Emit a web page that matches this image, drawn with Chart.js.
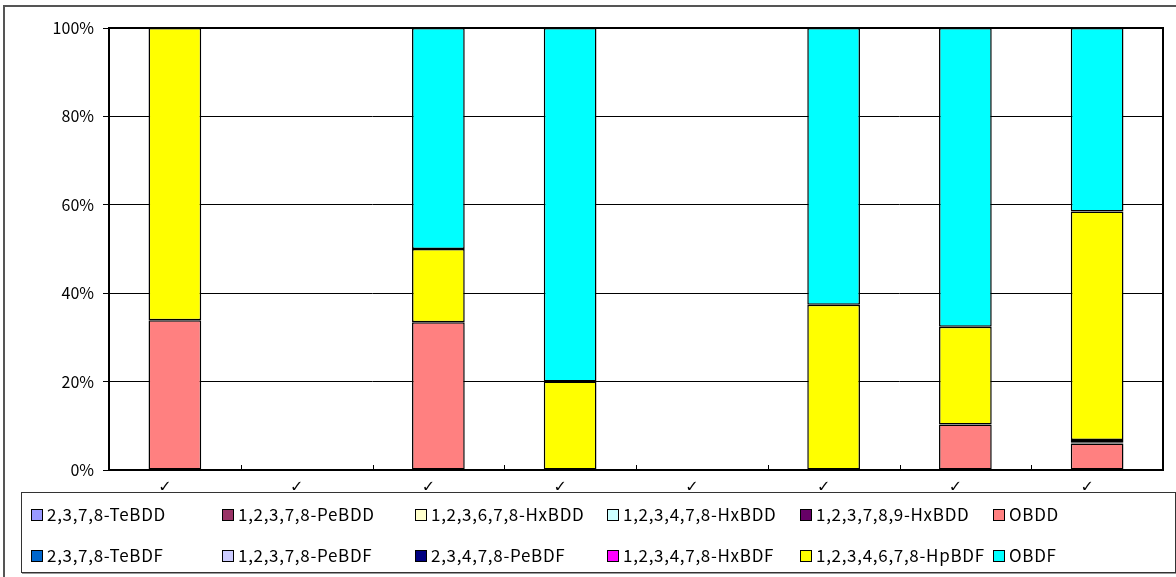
<!DOCTYPE html>
<html>
<head>
<meta charset="utf-8">
<script src="https://cdn.jsdelivr.net/npm/chart.js"></script>
<style>
    body { margin: 0; background: #fff; }
    #wrap { position: relative; width: 1176px; height: 577px; overflow: hidden; }
    #frame { position: absolute; left: 3px; top: 5px; width: 1190px; height: 590px; border: 2px solid #555; box-sizing: border-box; }
    canvas { position: absolute; left: 0; top: 0; }
    #legend { position: absolute; left: 21px; top: 492px; width: 1155px; height: 81px; border: 1px solid #333; box-shadow: 1px 1px 0 #999; box-sizing: border-box; background: #fff; font-family: "Noto Sans CJK JP", sans-serif; font-size: 17px; letter-spacing: 0.7px; color: #000; }
    .item { position: absolute; white-space: nowrap; line-height: 20px; }
    .box { display: inline-block; width: 10px; height: 10px; border: 1px solid #000; margin-right: 4px; vertical-align: 0px; }
</style>
</head>
<body>
<div id="wrap">
    <div id="frame"></div>
    <canvas id="chart" width="1176" height="577"></canvas>
    <div id="legend"></div>
</div>
<script>
const labels = ['\u2713', '\u2713', '\u2713', '\u2713', '\u2713', '\u2713', '\u2713', '\u2713'];

const seriesNames = [
    '2,3,7,8-TeBDD', '1,2,3,7,8-PeBDD', '1,2,3,6,7,8-HxBDD', '1,2,3,4,7,8-HxBDD', '1,2,3,7,8,9-HxBDD', 'OBDD',
    '2,3,7,8-TeBDF', '1,2,3,7,8-PeBDF', '2,3,4,7,8-PeBDF', '1,2,3,4,7,8-HxBDF', '1,2,3,4,6,7,8-HpBDF', 'OBDF'
];
const seriesColors = [
    '#9999FF', '#993366', '#FFFFCC', '#CCFFFF', '#660066', '#FF8080',
    '#0066CC', '#CCCCFF', '#000080', '#FF00FF', '#FFFF00', '#00FFFF'
];

// percentages per sample, null = not detected
const teBDD   = [null, null, null, null, null, null, null, null];
const peBDD   = [null, null, null, null, null, null, null, null];
const hxBDD1  = [null, null, null, null, null, null, null, null];
const hxBDD2  = [null, null, null, null, null, null, null, null];
const hxBDD3  = [null, null, null, null, null, null, null, null];
const oBDD    = [33.9, null, 33.4, null, null, null, 10.3, 6.0];
const teBDF   = [null, null, null, null, null, null, null, 0.3];
const peBDF1  = [null, null, null, null, null, null, null, null];
const peBDF2  = [null, null, null, null, null, null, null, 0.5];
const hxBDF   = [null, null, null, null, null, null, null, null];
const hpBDF   = [66.1, null, 16.6, 20.0, null, 37.4, 22.1, 51.7];
const oBDF    = [null, null, 50.0, 80.0, null, 62.6, 67.6, 41.5];

const seriesData = [teBDD, peBDD, hxBDD1, hxBDD2, hxBDD3, oBDD, teBDF, peBDF1, peBDF2, hxBDF, hpBDF, oBDF];

const datasets = seriesNames.map((name, i) => ({
    label: name,
    data: seriesData[i],
    backgroundColor: seriesColors[i],
    borderColor: '#000',
    borderWidth: 1.5,
    borderSkipped: false,
    barPercentage: 0.4,
    categoryPercentage: 1.0
}));

const frameAndTicks = {
    id: 'frameAndTicks',
    afterDraw(chart) {
        const { ctx, chartArea: a, scales: { x } } = chart;
        ctx.save();
        ctx.strokeStyle = '#000';
        ctx.lineWidth = 2;
        ctx.strokeRect(a.left, a.top, a.right - a.left, a.bottom - a.top);
        ctx.lineWidth = 1;
        const half = (x.getPixelForValue(1) - x.getPixelForValue(0)) / 2;
        for (let i = 0; i < labels.length - 1; i++) {
            const px = Math.round(x.getPixelForValue(i) + half) + 0.5;
            ctx.beginPath();
            ctx.moveTo(px, a.bottom);
            ctx.lineTo(px, a.bottom - 5);
            ctx.stroke();
        }
        ctx.restore();
    }
};

new Chart(document.getElementById('chart'), {
    type: 'bar',
    data: { labels: labels, datasets: datasets },
    plugins: [frameAndTicks],
    options: {
        responsive: false,
        animation: false,
        layout: { padding: { left: 0, top: 28, right: 13, bottom: 87 } },
        plugins: { legend: { display: false }, tooltip: { enabled: false } },
        scales: {
            x: {
                stacked: true,
                offset: true,
                grid: { display: false, drawTicks: false },
                border: { display: false },
                ticks: { color: '#000', padding: 8, labelOffset: -10, font: { family: 'DejaVu Sans', size: 16 } },
                afterFit: (s) => { s.height = 20; }
            },
            y: {
                stacked: true,
                min: 0,
                max: 100,
                grid: { color: '#000', lineWidth: 1, tickLength: 6, tickColor: '#000' },
                border: { display: false },
                ticks: {
                    stepSize: 20,
                    color: '#000',
                    padding: 9,
                    font: { family: 'Noto Sans CJK JP', size: 16 },
                    callback: (v) => v + '%'
                },
                afterFit: (s) => { s.width = 109; }
            }
        }
    }
});

const legendEl = document.getElementById('legend');
const colX = [9, 200, 393, 585, 778, 971];
const rowY = [11, 52];
seriesNames.forEach((name, i) => {
    const it = document.createElement('div');
    it.className = 'item';
    it.style.left = colX[i % 6] + 'px';
    it.style.top = rowY[Math.floor(i / 6)] + 'px';
    const b = document.createElement('span');
    b.className = 'box';
    b.style.background = seriesColors[i];
    it.appendChild(b);
    it.appendChild(document.createTextNode(name));
    legendEl.appendChild(it);
});
</script>
</body>
</html>
